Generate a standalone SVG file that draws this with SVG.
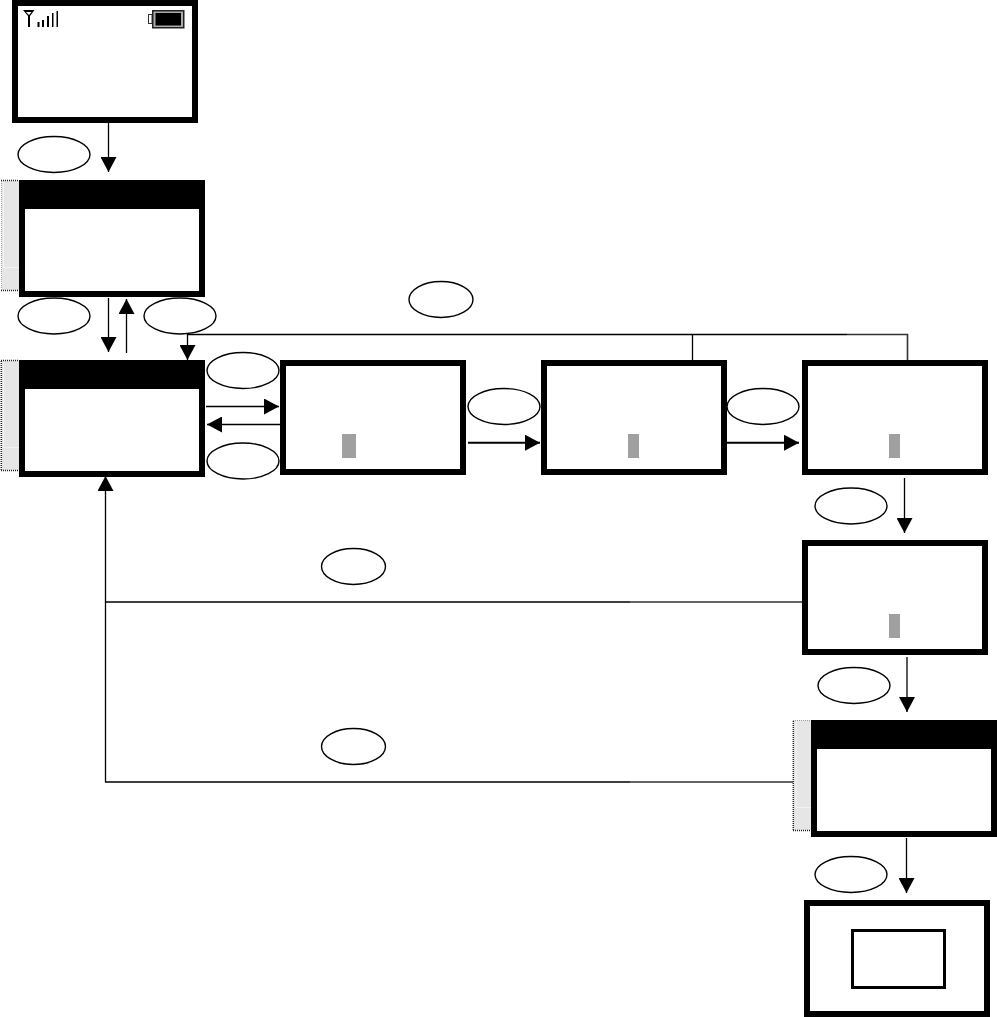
<svg xmlns="http://www.w3.org/2000/svg" width="997" height="1017" viewBox="0 0 997 1017">
<style>
.s{fill:#fff;stroke:#000;stroke-width:6}
.t{fill:#000}
.b{fill:#a0a0a0}
.e{fill:#fff;stroke:#000;stroke-width:1.4}
.side{fill:#e6e6e6}
.lt{fill:none;stroke:#f2f2f2;stroke-width:1}
.dot{fill:none;stroke:#222;stroke-width:1.500;stroke-dasharray:1 1}
.dotl{fill:none;stroke:#999;stroke-width:1;stroke-dasharray:1 1}
.c{fill:none;stroke:#000;stroke-width:1.3}
.c2{fill:none;stroke:#000;stroke-width:2}
.g{fill:none;stroke:#333;stroke-width:1.600}
</style>
<defs>
<marker id="a" markerUnits="userSpaceOnUse" markerWidth="15" markerHeight="16" refX="15" refY="8" orient="auto"><path d="M0 0L15 8L0 16Z" fill="#000"/></marker>
</defs>
<rect width="997" height="1017" fill="#fff"/>
<g id="connectors">
<path class="c" d="M108.500 123V172" marker-end="url(#a)"/>
<path class="c" d="M108.500 298V352" marker-end="url(#a)"/>
<path class="c" d="M126.500 353V299" marker-end="url(#a)"/>
<path class="c" d="M847 334.500H187.500V360" marker-end="url(#a)"/>
<path class="g" d="M847 334.500H907.500V360"/>
<path class="c" d="M692.500 334.500V360"/>
<path class="c" d="M206 406.500H279" marker-end="url(#a)"/>
<path class="c" d="M280 424.500H207" marker-end="url(#a)"/>
<path class="c2" d="M468 442.700H540" marker-end="url(#a)"/>
<path class="c2" d="M727 442.700H799" marker-end="url(#a)"/>
<path class="c" d="M904.500 478V533" marker-end="url(#a)"/>
<path class="c" d="M907 657V712" marker-end="url(#a)"/>
<path class="c" d="M906.500 838V893" marker-end="url(#a)"/>
<path class="c" d="M630 602H105.500M630 782H105.500V476" marker-end="url(#a)"/>
<path class="g" d="M630 602H802M630 782H793"/>
</g>
<g id="screen-1">
<rect class="s" x="15" y="3" width="180" height="117"/>
<g id="signal" fill="#000">
<path d="M23 10H34.500L30 16V27H28V16ZM26 12L29 15L31.500 12Z" fill-rule="evenodd"/>
<rect x="37.500" y="22" width="2" height="5"/><rect x="42" y="20" width="2" height="7"/><rect x="47" y="16" width="2" height="11"/><rect x="52" y="13" width="1.500" height="14"/><rect x="56.500" y="11" width="1.500" height="16"/>
</g>
<g id="battery">
<rect x="148.500" y="14.500" width="3.500" height="9" fill="#fff" stroke="#333"/>
<rect x="152" y="10" width="32.500" height="18.500" fill="#222"/>
<rect x="153.500" y="11.500" width="29.500" height="15.500" fill="#aaa"/>
<rect x="155.500" y="13" width="25.500" height="12.500" fill="#000"/>
</g>
</g>
<g id="screen-2">
<rect class="side" x="2" y="180.500" width="17" height="110"/>
<path class="lt" d="M3.500 181V267.500H19"/>
<path class="dot" d="M1 180.500H19M1 290.500H19"/>
<path class="dotl" d="M1.500 181V290"/>
<rect class="s" x="22" y="183" width="180" height="111"/>
<rect class="t" x="19" y="180" width="186" height="29"/>
</g>
<g id="screen-3">
<rect class="side" x="2" y="360.500" width="17" height="110"/>
<path class="lt" d="M3.500 361V447.500H19"/>
<path class="dot" d="M1 360.500H19M1 470.500H19M1.300 361V470"/>
<rect class="s" x="22" y="363" width="180" height="111"/>
<rect class="t" x="19" y="360" width="186" height="29"/>
</g>
<g id="screen-4">
<rect class="s" x="283" y="363" width="180" height="109"/>
<rect class="b" x="342" y="434" width="14" height="24"/>
</g>
<g id="screen-5">
<rect class="s" x="544" y="363" width="180" height="109"/>
<rect class="b" x="628" y="434" width="11" height="24"/>
</g>
<g id="screen-6">
<rect class="s" x="805" y="363" width="180" height="109"/>
<rect class="b" x="889" y="434" width="11" height="24"/>
</g>
<g id="screen-7">
<rect class="s" x="805" y="543" width="180" height="109"/>
<rect class="b" x="889" y="614" width="11" height="24"/>
</g>
<g id="screen-8">
<rect class="side" x="793" y="720.500" width="18" height="110"/>
<path class="lt" d="M796 721V807.500H811"/>
<path class="dot" d="M793.300 721V830M793 830.500H811"/>
<path class="dotl" d="M793 720.500H811"/>
<rect class="s" x="814" y="723" width="180" height="111"/>
<rect class="t" x="811" y="720" width="186" height="29"/>
</g>
<g id="screen-9">
<rect class="s" x="807" y="903" width="180" height="111"/>
<rect x="852.500" y="930.500" width="92" height="57" fill="#fff" stroke="#000" stroke-width="3"/>
</g>
<g id="ellipses">
<ellipse class="e" cx="54" cy="154.500" rx="36" ry="18"/>
<ellipse class="e" cx="54" cy="316" rx="36" ry="18"/>
<ellipse class="e" cx="180" cy="316" rx="36" ry="18"/>
<ellipse class="e" cx="441" cy="299.500" rx="32" ry="18"/>
<ellipse class="e" cx="243" cy="370.500" rx="36" ry="18"/>
<ellipse class="e" cx="243" cy="461" rx="36" ry="18"/>
<ellipse class="e" cx="504" cy="406.500" rx="36" ry="18"/>
<ellipse class="e" cx="763" cy="406.500" rx="36" ry="18"/>
<ellipse class="e" cx="851" cy="506" rx="36" ry="18"/>
<ellipse class="e" cx="353.500" cy="566.500" rx="32" ry="18"/>
<ellipse class="e" cx="353.500" cy="746.500" rx="32" ry="18"/>
<ellipse class="e" cx="854" cy="685.500" rx="36" ry="18"/>
<ellipse class="e" cx="851" cy="874.500" rx="36" ry="18"/>
</g>
</svg>
